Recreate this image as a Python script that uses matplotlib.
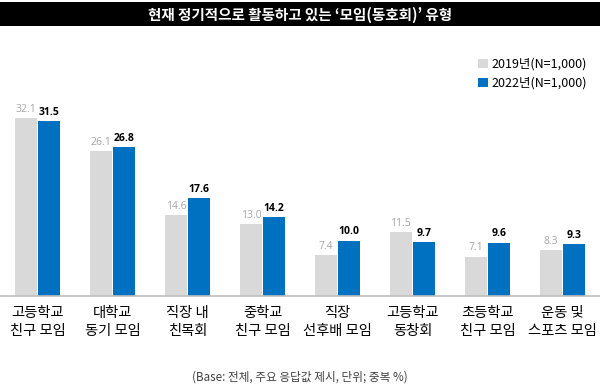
import matplotlib.pyplot as plt
import numpy as np
from matplotlib.patches import Rectangle, Patch

plt.rcParams['font.family'] = ['Noto Sans CJK KR', 'DejaVu Sans']

categories = ["고등학교\n친구 모임", "대학교\n동기 모임", "직장 내\n친목회", "중학교\n친구 모임",
              "직장\n선후배 모임", "고등학교\n동창회", "초등학교\n친구 모임", "운동 및\n스포츠 모임"]
vals_2019 = [32.1, 26.1, 14.6, 13.0, 7.4, 11.5, 7.1, 8.3]
vals_2022 = [31.5, 26.8, 17.6, 14.2, 10.0, 9.7, 9.6, 9.3]
series_labels = ["2019년(N=1,000)", "2022년(N=1,000)"]

gray = "#D9D9D9"
blue = "#0070C0"

fig = plt.figure(figsize=(6, 3.89), dpi=100)
ax = fig.add_axes([0, 0.239, 1, 0.57])

x = np.arange(len(categories))
w = 0.29
ax.bar(x - 0.155, vals_2019, width=w, color=gray)
ax.bar(x + 0.155, vals_2022, width=w, color=blue)

for xi, v in zip(x, vals_2019):
    ax.text(xi - 0.155, v + 0.6, f"{v:.1f}", ha="center", va="bottom", fontsize=7.5,
            color="#A6A6A6", family=["Open Sans", "DejaVu Sans"])
for xi, v in zip(x, vals_2022):
    ax.text(xi + 0.155, v + 0.6, f"{v:.1f}", ha="center", va="bottom", fontsize=7.5,
            color="black", fontweight="bold", family=["Open Sans", "DejaVu Sans"])

ax.set_xlim(-0.5, len(categories) - 0.5)
ax.set_ylim(0, 40)
for s in ["top", "right", "left"]:
    ax.spines[s].set_visible(False)
ax.spines["bottom"].set_color("#BFBFBF")
ax.spines["bottom"].set_linewidth(1.2)
ax.set_yticks([])
ax.set_xticks(x)
ax.set_xticklabels(categories, fontsize=10.3, linespacing=1.35)
ax.tick_params(axis="x", length=0, pad=7)

handles = [Patch(facecolor=gray), Patch(facecolor=blue)]
ax.legend(handles, series_labels, loc="upper right", bbox_to_anchor=(0.997, 1.125),
          frameon=False, fontsize=9, handlelength=0.75, handleheight=0.75,
          handletextpad=0.3, labelspacing=0.45)

# 제목 바
fig.patches.append(Rectangle((0, 0.932), 1, 0.063, transform=fig.transFigure,
                             facecolor="black", edgecolor="none"))
fig.text(0.5, 0.963, "현재 정기적으로 활동하고 있는 ‘모임(동호회)’ 유형", ha="center", va="center",
         color="white", fontsize=10.5, fontweight="bold")

fig.text(0.5, 0.03, "(Base: 전체, 주요 응답값 제시, 단위; 중복 %)", ha="center", va="center",
         fontsize=8.4, color="#404040")

fig.savefig("out.png", dpi=100)
